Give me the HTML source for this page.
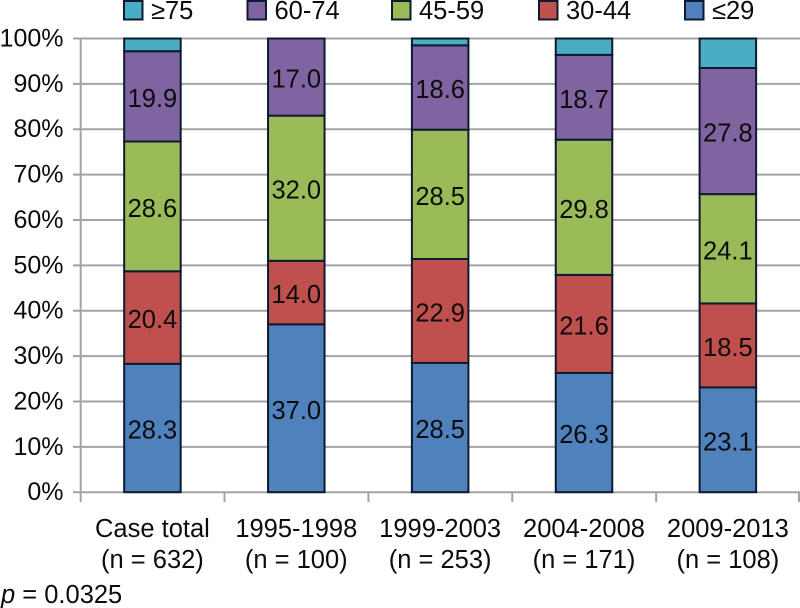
<!DOCTYPE html>
<html><head><meta charset="utf-8"><title>Stacked bar chart</title>
<style>html,body{margin:0;padding:0;background:#fff}svg{display:block}text{font-family:"Liberation Sans",sans-serif;font-size:25.5px;fill:#0c0c0c}</style>
</head><body>
<svg id="chart" width="800" height="608" viewBox="0 0 800 608" xmlns="http://www.w3.org/2000/svg"></svg>
<script>
const categories = ["Case total", "1995-1998", "1999-2003", "2004-2008", "2009-2013"];
const counts = ["(n = 632)", "(n = 100)", "(n = 253)", "(n = 171)", "(n = 108)"];
const under30 = [28.3, 37.0, 28.5, 26.3, 23.1];
const age30to44 = [20.4, 14.0, 22.9, 21.6, 18.5];
const age45to59 = [28.6, 32.0, 28.5, 29.8, 24.1];
const age60to74 = [19.9, 17.0, 18.6, 18.7, 27.8];
const over75 = [2.8, 0, 1.5, 3.6, 6.5];
const tickValues = [0, 10, 20, 30, 40, 50, 60, 70, 80, 90, 100];
const seriesNames = ["≤29", "30-44", "45-59", "60-74", "≥75"];
const seriesKeys = ["under-29", "30-44", "45-59", "60-74", "over-75"];
const seriesColors = ["#4f81bd", "#c0504d", "#9bbb59", "#8064a2", "#4bacc6"];
const labeledSeries = [true, true, true, true, false];
const allSeries = [under30, age30to44, age45to59, age60to74, over75];

const svg = document.getElementById('chart');
const NS = 'http://www.w3.org/2000/svg';
const plot = {left: 80.7, right: 800, top: 38.5, bottom: 492.2};
const y = v => plot.bottom - (v / 100) * (plot.bottom - plot.top);
const band = (plot.right - plot.left) / categories.length;
const x = i => plot.left + band * (i + 0.5) - 0.2;
const barW = 56.5;
function make(tag, attrs, text) {
  const el = document.createElementNS(NS, tag);
  for (const k in attrs) el.setAttribute(k, attrs[k]);
  if (text !== undefined) el.textContent = text;
  svg.appendChild(el);
  return el;
}
const grey = '#a3a3a3';
const edge = '#0e1a2e';

tickValues.forEach(t => {
  const g = make('line', {x1: 73, x2: plot.right, y1: y(t), y2: y(t), stroke: grey, 'stroke-width': 2});
  
  
  const l = make('text', {x: 63.5, y: y(t) + 8, 'text-anchor': 'end', style: 'font-size:25px'}, t + '%');
  
  
});
const yAxis = make('line', {x1: plot.left, x2: plot.left, y1: plot.top, y2: 502, stroke: grey, 'stroke-width': 2});


for (let i = 1; i <= categories.length; i++) {
  const tx = Math.min(plot.left + band * i, 799);
  const tk = make('line', {x1: tx, x2: tx, y1: plot.bottom, y2: 502, stroke: grey, 'stroke-width': 2});
  
  
}

categories.forEach((c, i) => {
  let base = 0;
  allSeries.forEach((s, k) => {
    const v = s[i];
    if (v > 0) {
      const r = make('rect', {x: x(i) - barW / 2, y: y(base + v), width: barW, height: y(base) - y(base + v), fill: seriesColors[k], stroke: edge, 'stroke-width': 2});
      
      
    }
    base += v;
  });
  base = 0;
  allSeries.forEach((s, k) => {
    const v = s[i];
    if (labeledSeries[k]) {
      const t = make('text', {x: x(i), y: y(base + v / 2) + 10.5, 'text-anchor': 'middle'}, v.toFixed(1));
      
      
    }
    base += v;
  });
  const a = make('text', {x: x(i), y: 537, 'text-anchor': 'middle'}, c);
  
  
  const b = make('text', {x: x(i), y: 568, 'text-anchor': 'middle'}, counts[i]);
  
  
});

const legendSwatchX = [124, 247.5, 392, 539, 685];
const legendOrder = [4, 3, 2, 1, 0];
legendOrder.forEach((k, j) => {
  const s = make('rect', {x: legendSwatchX[j], y: 1, width: 18.5, height: 18.5, fill: seriesColors[k], stroke: edge, 'stroke-width': 2});
  
  
  const t = make('text', {x: legendSwatchX[j] + 27, y: 19}, seriesNames[k]);
  
  
});

const p = make('text', {x: 1, y: 603});


const pi = document.createElementNS(NS, 'tspan');
pi.setAttribute('font-style', 'italic');
pi.textContent = 'p';
p.appendChild(pi);
p.appendChild(document.createTextNode(' = 0.0325'));
</script>
</body></html>
